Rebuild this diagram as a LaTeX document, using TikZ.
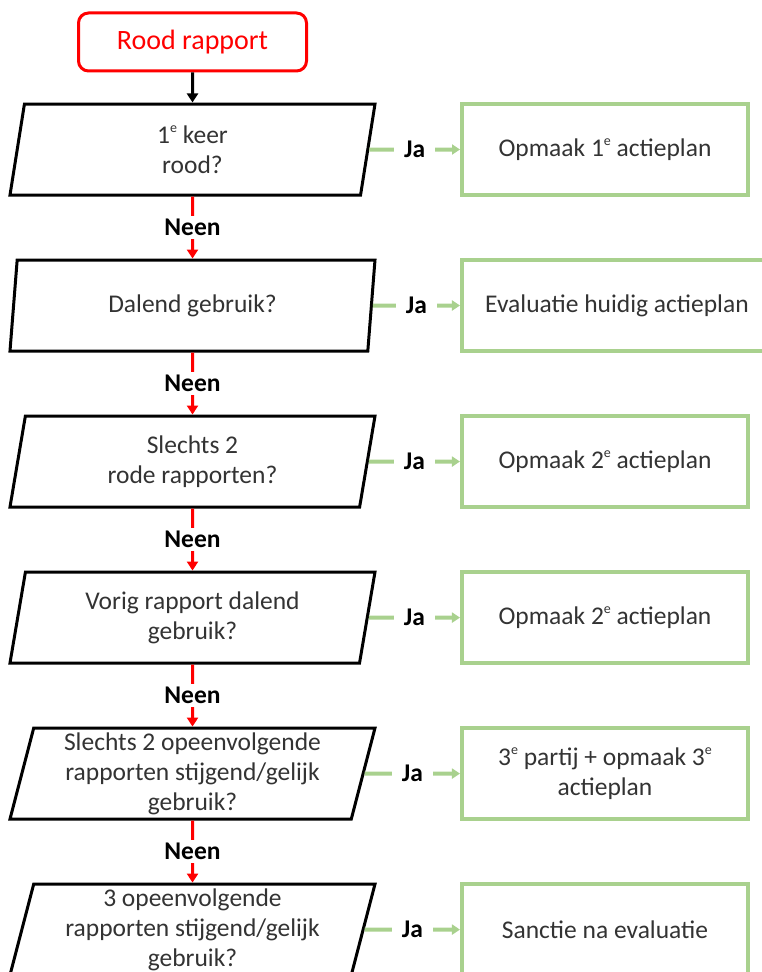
\documentclass[tikz,border=0pt]{standalone}
\usepackage{fontspec}
\setmainfont{Carlito}
\usetikzlibrary{positioning,shapes.geometric,arrows.meta}
\definecolor{roodlijn}{HTML}{FF0000}
\definecolor{jagroen}{HTML}{A9D18E}
\definecolor{tekst}{HTML}{333333}

\newcommand{\hoog}[1]{\raisebox{0.45em}{\fontsize{14}{14}\selectfont #1}}

\begin{document}
\begin{tikzpicture}
	[
		x=1pt, y=-1pt,
		every node/.style = {
			align=center, text=tekst,
			font=\fontsize{25.5}{30}\selectfont
		},
		node distance=62pt,
		start/.style = {
			shape=rectangle, rounded corners=10pt,
			draw=roodlijn, line width=3pt,
			minimum width=228pt, minimum height=58pt,
			text=roodlijn, font=\fontsize{28}{32}\selectfont
		},
		vraag/.style = {
			shape=trapezium, trapezium stretches body,
			trapezium left angle=74.6, trapezium right angle=105.4,
			draw, line width=3pt, inner sep=2pt,
			minimum width=365pt, minimum height=91pt
		},
		actie/.style = {
			shape=rectangle, draw=jagroen, line width=4pt,
			minimum width=286pt, minimum height=91pt, anchor=west
		},
		antwoord/.style = {
			fill=white, text=black, inner ysep=3pt,
			font=\fontsize{25.5}{30}\selectfont\bfseries
		},
		pijl/.style = {line width=3pt, -{Triangle[length=9pt,width=11pt]}},
		nee/.style = {pijl, draw=roodlijn},
		ja/.style = {draw=jagroen, line width=4pt, -{Triangle[length=8pt,width=10pt]}}
	]
	\useasboundingbox (0,0) rectangle (762,972);

	% vragen
	\node[vraag] (q1) at (192.5,149.5) {1\hoog{e} keer\\rood?};
	\node[vraag, below=of q1] (q2) {Dalend gebruik?};
	\node[vraag, below=of q2] (q3) {Slechts 2\\rode rapporten?};
	\node[vraag, below=of q3] (q4) {Vorig rapport dalend\\gebruik?};
	\node[vraag, below=of q4] (q5) {Slechts 2 opeenvolgende\\rapporten stijgend/gelijk\\gebruik?};
	\node[vraag, below=of q5] (q6) {3 opeenvolgende\\rapporten stijgend/gelijk\\gebruik?};

	\node[start, above=30pt of q1] (start) {Rood rapport};

	% acties
	\node[actie] (a1) at ([xshift=267.5pt]q1.center) {Opmaak 1\hoog{e} actieplan};
	\node[actie, minimum width=310pt] (a2) at ([xshift=267.5pt]q2.center) {Evaluatie huidig actieplan};
	\node[actie] (a3) at ([xshift=267.5pt]q3.center) {Opmaak 2\hoog{e} actieplan};
	\node[actie] (a4) at ([xshift=267.5pt]q4.center) {Opmaak 2\hoog{e} actieplan};
	\node[actie] (a5) at ([xshift=267.5pt]q5.center) {3\hoog{e} partij + opmaak 3\hoog{e}\\actieplan};
	\node[actie] (a6) at ([xshift=267.5pt]q6.center) {Sanctie na evaluatie};

	\draw[pijl] (start) -- (q1);

	\foreach \i/\j in {1/2,2/3,3/4,4/5,5/6}
		\draw[nee] (q\i) -- node[antwoord] {Neen} (q\j);

	\foreach \i in {1,...,6}
		\draw[ja] (q\i) -- node[antwoord, inner xsep=10pt] {Ja} (a\i);
\end{tikzpicture}
\end{document}
